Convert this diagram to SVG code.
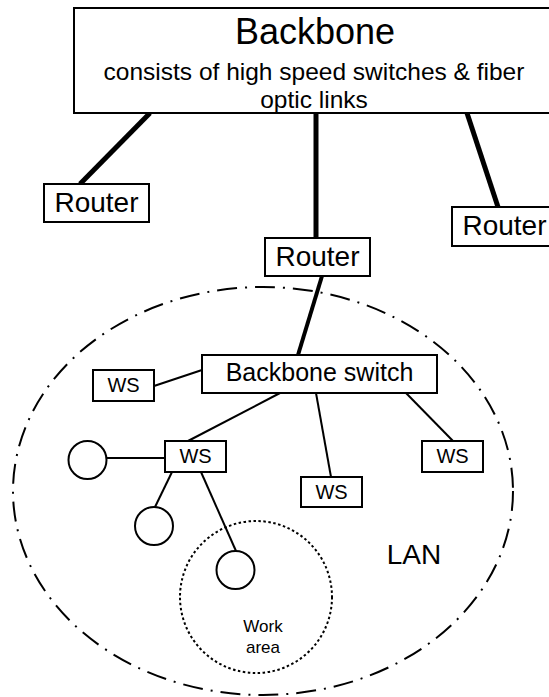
<svg xmlns="http://www.w3.org/2000/svg" width="549" height="697" viewBox="0 0 549 697">
<style>
  text { font-family: "Liberation Sans", Arial, sans-serif; fill: #000; text-anchor: middle; }
  .box { fill: #fff; stroke: #000; stroke-width: 2; }
  .thick { stroke: #000; stroke-width: 5; fill: none; }
  .med { stroke: #000; stroke-width: 4; fill: none; }
  .thin { stroke: #000; stroke-width: 2; fill: none; }
  .ws { fill: #fff; stroke: #000; stroke-width: 2; }
  .lan { fill: none; stroke: #000; stroke-width: 2; stroke-dasharray: 20 8 2 8; }
  .work { fill: none; stroke: #000; stroke-width: 2; stroke-dasharray: 2.5 2.5; }
</style>
<rect width="549" height="697" fill="#fff"/>
<g id="lan-area">
  <ellipse class="lan" cx="263" cy="491" rx="250" ry="204"/>
  <text x="414" y="564" font-size="28">LAN</text>
</g>
<g id="work-area">
  <circle class="work" cx="256" cy="597" r="76"/>
  <text x="263" y="632" font-size="17">Work</text>
  <text x="263" y="653" font-size="17">area</text>
</g>
<g id="connectors">
  <line class="thick" x1="150" y1="113" x2="80" y2="184"/>
  <line class="thick" x1="316" y1="113" x2="316" y2="238"/>
  <line class="thick" x1="467" y1="113" x2="498" y2="207"/>
  <line class="med" x1="322" y1="276" x2="298" y2="355"/>
  <line class="thin" x1="154" y1="386" x2="202" y2="370"/>
  <line class="thin" x1="280" y1="393" x2="188" y2="441"/>
  <line class="thin" x1="316" y1="393" x2="331" y2="477"/>
  <line class="thin" x1="406" y1="393" x2="453" y2="441"/>
  <line class="thin" x1="107" y1="458" x2="165" y2="458"/>
  <line class="thin" x1="172" y1="472" x2="155" y2="507"/>
  <line class="thin" x1="201" y1="472" x2="236" y2="551"/>
</g>
<g id="backbone">
  <rect class="box" x="74" y="8" width="480" height="105"/>
  <text x="315" y="44" font-size="36">Backbone</text>
  <text x="314" y="80" font-size="24.5">consists of high speed switches &amp; fiber</text>
  <text x="314" y="108" font-size="24.5">optic links</text>
</g>
<g id="router-left">
  <rect class="box" x="44" y="184" width="105" height="38"/>
  <text x="96.5" y="212" font-size="28">Router</text>
</g>
<g id="router-mid">
  <rect class="box" x="265" y="238" width="105" height="38"/>
  <text x="317.5" y="266" font-size="28">Router</text>
</g>
<g id="router-right">
  <rect class="box" x="452" y="207" width="105" height="39"/>
  <text x="504.5" y="235" font-size="28">Router</text>
</g>
<g id="backbone-switch">
  <rect class="box" x="202" y="355" width="235" height="38"/>
  <text x="319.5" y="381" font-size="25">Backbone switch</text>
</g>
<g id="ws-left">
  <rect class="ws" x="93" y="370" width="61" height="31"/>
  <text x="123.5" y="392" font-size="20">WS</text>
</g>
<g id="ws-mid">
  <rect class="ws" x="165" y="441" width="61" height="31"/>
  <text x="195.5" y="463" font-size="20">WS</text>
</g>
<g id="ws-bottom">
  <rect class="ws" x="301" y="477" width="61" height="30"/>
  <text x="331.5" y="499" font-size="20">WS</text>
</g>
<g id="ws-right">
  <rect class="ws" x="422" y="441" width="61" height="31"/>
  <text x="452.5" y="463" font-size="20">WS</text>
</g>
<g id="pc-1"><circle class="thin" cx="87.5" cy="460" r="19"/></g>
<g id="pc-2"><circle class="thin" cx="154" cy="526" r="19"/></g>
<g id="pc-3"><circle class="thin" cx="235.5" cy="570" r="19"/></g>
</svg>
